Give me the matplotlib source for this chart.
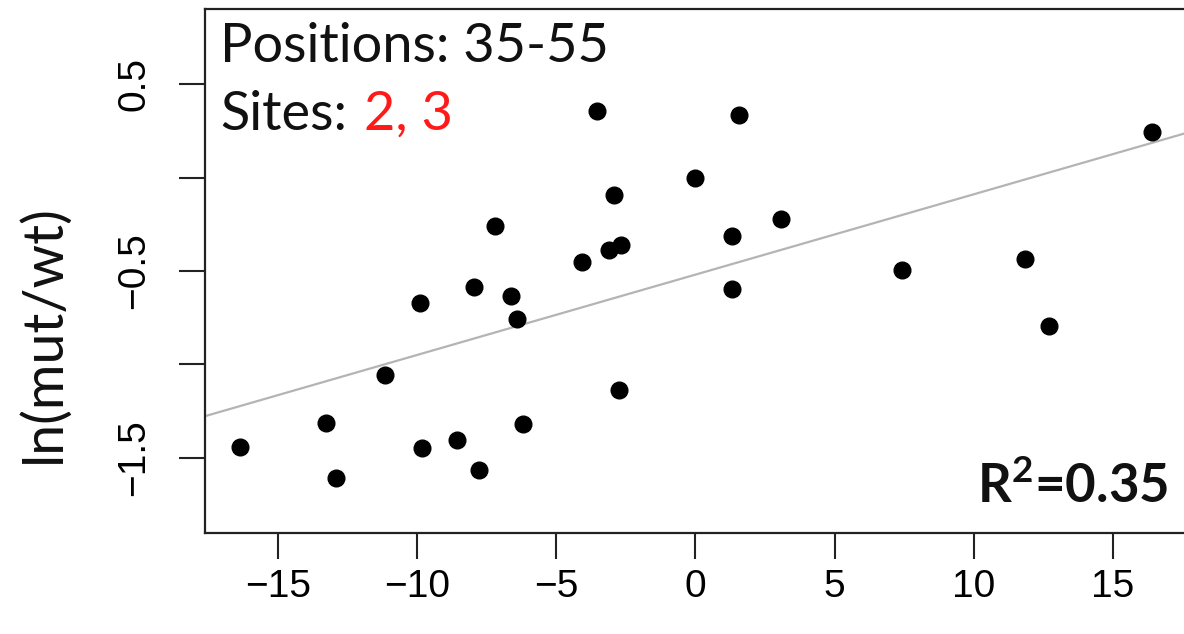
import matplotlib
matplotlib.use("Agg")
import matplotlib.pyplot as plt

# per-site scores vs log ratio of mutant to wild type
score = [-16.35, -13.26, -12.93, -11.17, -9.88, -9.84, -8.58, -7.97, -7.79,
         -7.19, -6.64, -6.41, -6.21, -4.09, -3.52, -3.09, -2.91, -2.69,
         -2.76, -0.03, 1.30, 1.30, 1.55, 3.07, 7.41, 11.83, 12.69, 16.39]
log_ratio = [-1.441, -1.312, -1.607, -1.055, -0.674, -1.446, -1.403, -0.588,
             -1.565, -0.261, -0.637, -0.760, -1.318, -0.454, 0.355, -0.390,
             -0.095, -0.363, -1.135, -0.004, -0.315, -0.599, 0.334, -0.224,
             -0.497, -0.438, -0.797, 0.243]

fit_intercept = -0.52
fit_slope = 0.043
r_squared = 0.35

xticks = [-15, -10, -5, 0, 5, 10, 15]
yticks = [-1.5, -1.0, -0.5, 0.0, 0.5]
ytick_labels = ["\u22121.5", "", "\u22120.5", "", "0.5"]

TICK_FONT = "Liberation Sans"
TEXT_FONT = "Lato"

plt.rcParams["mathtext.fontset"] = "custom"
plt.rcParams["mathtext.rm"] = "Lato:bold"
plt.rcParams["mathtext.bf"] = "Lato:bold"

fig = plt.figure(figsize=(11.84, 6.34), dpi=100)
ax = fig.add_axes([205 / 1184, 101 / 634, 983 / 1184, 524 / 634])

ax.axline((0, fit_intercept), slope=fit_slope, color="#b4b4b4", lw=1.6, zorder=1)
ax.plot(score, log_ratio, "o", color="black", ms=12, mec="black", zorder=3)

ax.set_xlim(-17.62, 17.7)
ax.set_ylim(-1.903, 0.902)

ax.set_xticks(xticks)
ax.set_xticklabels([f"{t}".replace("-", "\u2212") for t in xticks],
                   fontfamily=TICK_FONT, fontsize=28)
ax.set_yticks(yticks)
ax.set_yticklabels(ytick_labels, fontfamily=TICK_FONT, fontsize=28)
ax.tick_params(axis="both", length=19, width=1.5, color="#222222")
ax.tick_params(axis="x", pad=7)
ax.tick_params(axis="y", pad=19, labelrotation=90)
for lab in ax.get_yticklabels():
    lab.set_va("center")

for side in ("left", "bottom", "top"):
    ax.spines[side].set_linewidth(1.6)
    ax.spines[side].set_color("#222222")
ax.spines["right"].set_visible(False)

ax.text(0.0153, 0.899, "Positions: 35-55", transform=ax.transAxes,
        fontfamily=TEXT_FONT, fontsize=39, color="#111111",
        ha="left", va="baseline")
sites = ax.text(0.0153, 0.769, "Sites:", transform=ax.transAxes,
                fontfamily=TEXT_FONT, fontsize=39, color="#111111",
                ha="left", va="baseline")
ax.annotate("2, 3", xy=(1, 0), xycoords=sites, xytext=(12, 0),
            textcoords="offset points", fontfamily=TEXT_FONT, fontsize=39,
            color="#ff1a1a", ha="left", va="bottom")

ax.text(0.9797, 0.0573, r"$\mathrm{R}^{2}$" + f"={r_squared:.2f}",
        transform=ax.transAxes, fontfamily=TEXT_FONT, fontweight="bold",
        fontsize=38, color="#111111", ha="right", va="baseline")

fig.text(44 / 1184, (634 - 334) / 634, "ln(mut/wt)", rotation=90,
         fontfamily=TEXT_FONT, fontsize=40, color="#111111",
         ha="center", va="center")

fig.savefig("out.png", dpi=100)
